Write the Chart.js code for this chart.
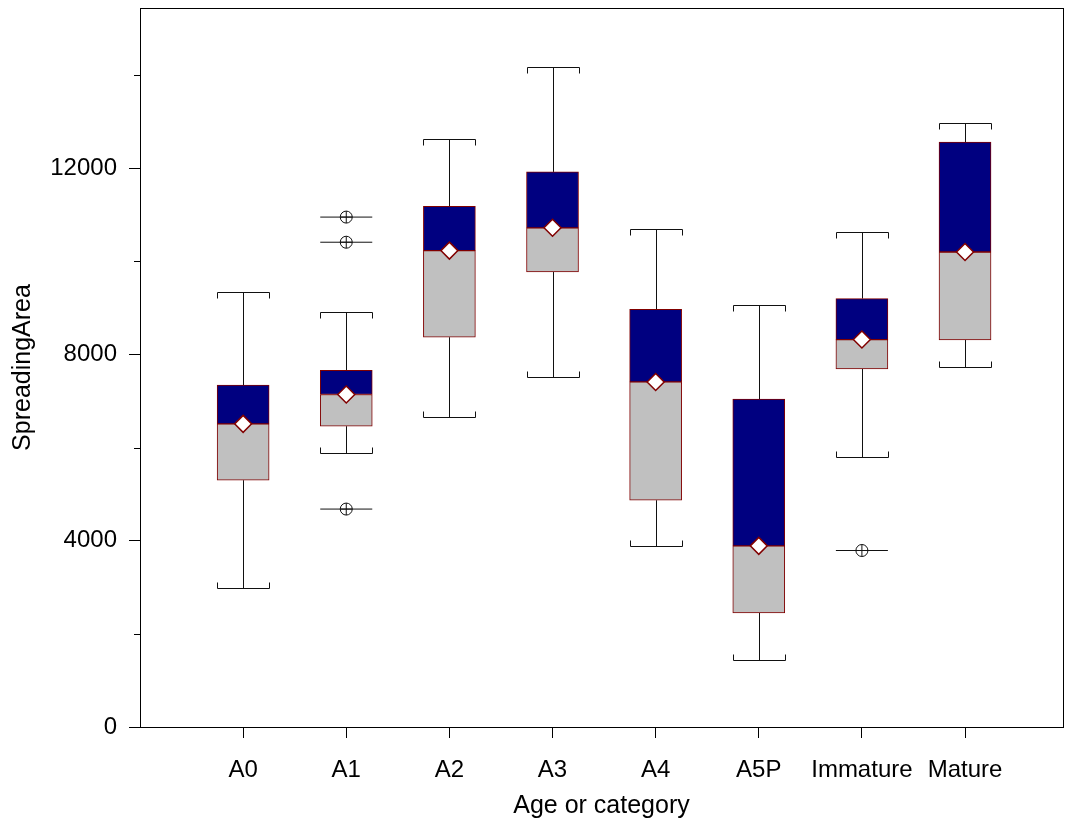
<!DOCTYPE html>
<html>
<head>
<meta charset="utf-8">
<script src="https://cdn.jsdelivr.net/npm/chart.js@4/dist/chart.umd.min.js"></script>
<style>
  html, body { margin: 0; padding: 0; background: #fff; }
  #wrap { width: 1068px; height: 825px; }
</style>
</head>
<body>
<div id="wrap"><canvas id="boxChart" width="1068" height="825"></canvas></div>
<script>
// values
var categories = ['A0', 'A1', 'A2', 'A3', 'A4', 'A5P', 'Immature', 'Mature'];
var lowerWhisker = [2980, 5880, 6660, 7510, 3890, 1440, 5790, 7740];
var q1 = [5300, 6460, 8370, 9770, 4870, 2450, 7690, 8310];
var median = [6510, 7140, 10230, 10720, 7410, 3890, 8320, 10200];
var q3 = [7340, 7660, 11180, 11920, 8970, 7040, 9200, 12560];
var upperWhisker = [9340, 8920, 12620, 14170, 10700, 9060, 10630, 12960];
var outlierIndex = [1, 1, 1, 6];
var outlierValue = [10950, 10410, 4680, 3790];
var yMajorTicks = [0, 4000, 8000, 12000];
var yMinorTicks = [2000, 6000, 10000, 14000];

var darkRed = '#800000';
var boxWidth = 52;
var fontFamily = '"Liberation Sans", Arial, Helvetica, sans-serif';

function pts(vals) {
  return vals.map(function(v, i) { return { x: i, y: v }; });
}

var lowerBox = categories.map(function(c, i) { return { x: i, y: [q1[i], median[i]] }; });
var upperBox = categories.map(function(c, i) { return { x: i, y: [median[i], q3[i]] }; });
var outliers = outlierIndex.map(function(idx, i) { return { x: idx, y: outlierValue[i] }; });

// whiskers, caps, minor ticks and frame
var boxExtras = {
  id: 'boxExtras',
  beforeDatasetsDraw: function(chart) {
    var ctx = chart.ctx, xs = chart.scales.x, ys = chart.scales.y;
    var half = boxWidth / 2, hook = 6;
    ctx.save();
    ctx.strokeStyle = '#111';
    ctx.lineWidth = 1;
    categories.forEach(function(c, i) {
      var x = Math.round(xs.getPixelForValue(i)) + 0.5;
      var yLo = Math.round(ys.getPixelForValue(lowerWhisker[i])) + 0.5;
      var yQ1 = ys.getPixelForValue(q1[i]);
      var yQ3 = ys.getPixelForValue(q3[i]);
      var yHi = Math.round(ys.getPixelForValue(upperWhisker[i])) + 0.5;
      ctx.beginPath();
      ctx.moveTo(x, yLo); ctx.lineTo(x, yQ1);
      ctx.moveTo(x, yQ3); ctx.lineTo(x, yHi);
      // upper cap
      ctx.moveTo(x - half, yHi + hook); ctx.lineTo(x - half, yHi);
      ctx.lineTo(x + half, yHi); ctx.lineTo(x + half, yHi + hook);
      // lower cap
      ctx.moveTo(x - half, yLo - hook); ctx.lineTo(x - half, yLo);
      ctx.lineTo(x + half, yLo); ctx.lineTo(x + half, yLo - hook);
      ctx.stroke();
    });
    ctx.restore();
  },
  afterDraw: function(chart) {
    var ctx = chart.ctx, a = chart.chartArea, ys = chart.scales.y;
    ctx.save();
    ctx.strokeStyle = '#000';
    ctx.lineWidth = 1;
    ctx.beginPath();
    yMinorTicks.forEach(function(v) {
      var y = Math.round(ys.getPixelForValue(v)) + 0.5;
      ctx.moveTo(a.left - 6, y); ctx.lineTo(a.left, y);
    });
    ctx.stroke();
    ctx.strokeRect(Math.round(a.left) + 0.5, Math.round(a.top) + 0.5,
      Math.round(a.right - a.left), Math.round(a.bottom - a.top));
    ctx.restore();
  }
};

var ctx = document.getElementById('boxChart');
var myChart = new Chart(ctx, {
  type: 'bar',
  data: {
    datasets: [
      {
        type: 'scatter', data: pts(median), order: 0,
        pointStyle: 'rectRot', radius: 8.5, backgroundColor: '#fff',
        borderColor: darkRed, borderWidth: 1.5
      },
      {
        type: 'scatter', data: outliers, order: 1,
        pointStyle: 'cross', radius: 6, borderColor: '#111', borderWidth: 1
      },
      {
        type: 'scatter', data: outliers, order: 1,
        pointStyle: 'circle', radius: 6, backgroundColor: 'rgba(0,0,0,0)',
        borderColor: '#111', borderWidth: 1
      },
      {
        type: 'scatter', data: outliers, order: 2,
        pointStyle: 'line', radius: boxWidth / 2, borderColor: '#111', borderWidth: 1
      },
      {
        data: upperBox, order: 3, grouped: false, barThickness: boxWidth,
        backgroundColor: '#000080', borderColor: darkRed, borderWidth: 1, borderSkipped: false
      },
      {
        data: lowerBox, order: 3, grouped: false, barThickness: boxWidth,
        backgroundColor: '#c0c0c0', borderColor: darkRed, borderWidth: 1, borderSkipped: false
      }
    ]
  },
  options: {
    responsive: false,
    animation: false,
    events: [],
    layout: { autoPadding: false, padding: { top: 8, right: 5, left: 0, bottom: 0 } },
    plugins: { legend: { display: false }, tooltip: { enabled: false } },
    scales: {
      x: {
        type: 'linear',
        min: -1,
        max: 7.95,
        offset: false,
        afterBuildTicks: function(scale) {
          scale.ticks = categories.map(function(c, i) { return { value: i }; });
        },
        afterFit: function(scale) {
          scale.height = 98;
          scale.paddingLeft = 0;
          scale.paddingRight = 0;
        },
        ticks: {
          autoSkip: false, maxRotation: 0, padding: 18, color: '#000',
          font: { family: fontFamily, size: 24 },
          callback: function(v) { return categories[v]; }
        },
        grid: { offset: false, drawOnChartArea: false, tickLength: 11, tickColor: '#000' },
        border: { display: false },
        title: {
          display: true, text: 'Age or category', color: '#000',
          font: { family: fontFamily, size: 25 }, padding: { top: 0, bottom: 4 }
        }
      },
      y: {
        min: 0,
        max: 15440,
        afterBuildTicks: function(scale) {
          scale.ticks = yMajorTicks.map(function(v) { return { value: v }; });
        },
        afterFit: function(scale) {
          scale.width = 140;
          scale.paddingTop = 0;
          scale.paddingBottom = 0;
        },
        ticks: {
          padding: 12, color: '#000',
          font: { family: fontFamily, size: 24 },
          callback: function(v) { return String(v); }
        },
        grid: { drawOnChartArea: false, tickLength: 11, tickColor: '#000' },
        border: { display: false },
        title: {
          display: true, text: 'SpreadingArea', color: '#000',
          font: { family: fontFamily, size: 25 }, padding: { top: 8, bottom: 0 }
        }
      }
    }
  },
  plugins: [boxExtras]
});
</script>
</body>
</html>
